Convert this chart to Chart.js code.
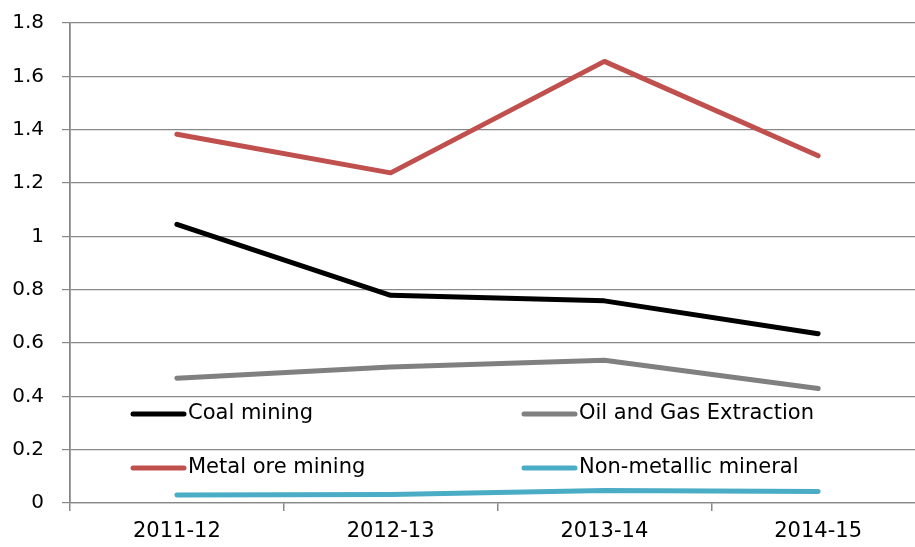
<!DOCTYPE html>
<html>
<head>
<meta charset="utf-8">
<script src="https://cdn.jsdelivr.net/npm/chart.js@4/dist/chart.umd.min.js"></script>
<style>
html,body{margin:0;padding:0;overflow:hidden;background:#fff;width:915px;height:547px;}
#wrap{position:absolute;left:0;top:0;width:925px;height:547px;}
</style>
</head>
<body>
<div id="wrap"><canvas id="c" width="925" height="547"></canvas></div>
<script>
const categories = ['2011-12', '2012-13', '2013-14', '2014-15'];
const coalMining = [1.045, 0.779, 0.758, 0.635];
const oilGas = [0.468, 0.51, 0.535, 0.429];
const metalOre = [1.383, 1.238, 1.656, 1.302];
const nonMetallic = [0.03, 0.032, 0.047, 0.043];
const seriesNames = ['Coal mining', 'Oil and Gas Extraction', 'Metal ore mining', 'Non-metallic mineral'];
const seriesColors = ['#000000', '#808080', '#C0504D', '#4BACC6'];
const yTicks = [0, 0.2, 0.4, 0.6, 0.8, 1, 1.2, 1.4, 1.6, 1.8];

const FONT = "'DejaVu Sans', sans-serif";
const FSIZE = 20;
const LSIZE = 21;

const legendPlugin = {
  id: 'inlineLegend',
  afterDraw(chart) {
    const ctx = chart.ctx;
    const pos = [[131, 414], [522, 414], [131, 468], [522, 468]];
    ctx.save();
    chart.data.datasets.forEach((ds, i) => {
      const [x, y] = pos[i];
      ctx.strokeStyle = ds.borderColor;
      ctx.lineWidth = 5;
      ctx.lineCap = 'round';
      ctx.beginPath();
      ctx.moveTo(x + 2, y);
      ctx.lineTo(x + 53, y);
      ctx.stroke();
      ctx.fillStyle = '#000';
      ctx.font = LSIZE + "px " + FONT;
      ctx.textBaseline = 'middle';
      ctx.textAlign = 'left';
      ctx.fillText(ds.label, x + 57, y);
    });
    ctx.restore();
  }
};

const datasets = [coalMining, oilGas, metalOre, nonMetallic].map((d, i) => ({
  label: seriesNames[i],
  data: d,
  borderColor: seriesColors[i],
  backgroundColor: seriesColors[i],
  borderWidth: 5,
  pointRadius: 0,
  tension: 0,
  borderCapStyle: 'round',
  borderJoinStyle: 'round',
  fill: false
}));

new Chart(document.getElementById('c'), {
  type: 'line',
  data: { labels: categories, datasets },
  options: {
    responsive: false,
    animation: false,
    devicePixelRatio: 1,
    layout: { padding: { top: 23, right: 0, left: 0, bottom: 0 } },
    plugins: { legend: { display: false }, tooltip: { enabled: false } },
    scales: {
      x: {
        offset: true,
        grid: { display: true, drawOnChartArea: false, drawTicks: true, tickLength: 8, color: '#888888', lineWidth: 1.5, offset: true },
        border: { display: true, color: '#888888', width: 1.2 },
        ticks: { color: '#000', font: { family: FONT, size: 21 }, padding: 8, maxRotation: 0 },
        afterFit(s) { s.height = 44; s.paddingLeft = 0; s.paddingRight = 0; }
      },
      y: {
        min: 0, max: 1.8,
        afterBuildTicks(s) { s.ticks = yTicks.map(v => ({ value: v })); },
        grid: { color: '#888888', lineWidth: 1.2, tickLength: 8 },
        border: { display: true, color: '#888888', width: 1.8 },
        ticks: {
          color: '#000', font: { family: FONT, size: FSIZE }, padding: 18,
          callback: v => String(parseFloat(Number(v).toFixed(1)))
        },
        afterFit(s) { s.width = 70; s.paddingTop = 0; s.paddingBottom = 0; }
      }
    }
  },
  plugins: [legendPlugin]
});
</script>
</body>
</html>
